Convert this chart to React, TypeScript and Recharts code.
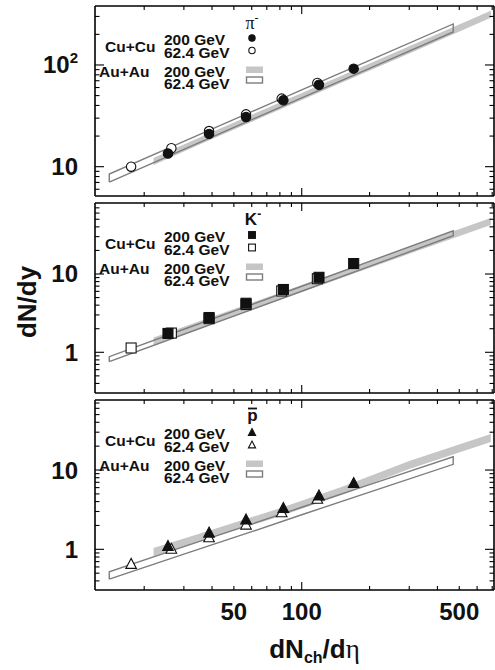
import React from "react";
import { ComposedChart, XAxis, YAxis, Area, Scatter, Legend } from "recharts";

const FONT = '"Liberation Sans", Arial, Helvetica, sans-serif';
const SERIF = '"Liberation Serif", "DejaVu Serif", serif';
const BAND = "#c6c6c6";
const OUTLINE = "#7d7d7d";
const INK = "#111";

// dN_ch/deta of the centrality bins
const cuX200 = [25.5, 38.8, 56.6, 82.9, 119.3, 170];
const cuX62 = [17.5, 26.4, 38.8, 56.6, 81.5, 117.3];
const auX200 = [22, 40, 80, 150, 300, 690];
const auX62 = [14, 30, 60, 100, 200, 470];

// pi-
const piCu200 = [13.5, 21, 30.8, 45, 64, 92];
const piCu62 = [10, 15.2, 22.4, 32.7, 46.7, 66.5];
const piAu200Lo = [10.4, 18.7, 36.5, 66.8, 130, 292];
const piAu200Hi = [12.2, 21.9, 42.8, 78.3, 153, 342];
const piAu62Lo = [7.06, 14.8, 29, 47.4, 92.6, 211];
const piAu62Hi = [8.47, 17.7, 34.7, 56.8, 111, 253];

// K-
const kCu200 = [1.74, 2.78, 4.23, 6.34, 9.07, 13.6];
const kCu62 = [1.135, 1.76, 2.69, 4.07, 6.07, 8.71];
const kAu200Lo = [1.25, 2.31, 4.7, 8.92, 18.1, 42.4];
const kAu200Hi = [1.54, 2.84, 5.77, 10.9, 22.3, 52.1];
const kAu62Lo = [0.759, 1.7, 3.51, 6.02, 12.5, 30.8];
const kAu62Hi = [0.879, 1.97, 4.07, 6.98, 14.5, 35.7];

// pbar
const pCu200 = [1.12, 1.65, 2.41, 3.37, 4.84, 6.95];
const pCu62 = [0.665, 1.03, 1.44, 2.08, 2.98, 4.4];
const pAu200Lo = [0.824, 1.41, 2.61, 4.84, 10.3, 22.5];
const pAu200Hi = [1.04, 1.77, 3.29, 6.1, 13.0, 28.4];
const pAu62Lo = [0.42, 0.868, 1.67, 2.73, 5.27, 11.8];
const pAu62Hi = [0.522, 1.08, 2.08, 3.39, 6.55, 14.7];

const X_DOMAIN: [number, number] = [12.1, 713];
const X_TICKS = [20, 30, 40, 50, 60, 70, 80, 90, 100, 200, 300, 400, 500, 600, 700];
const X_LABELS = [50, 100, 500];

const Y_TICKS_PI = [6, 7, 8, 9, 10, 20, 30, 40, 50, 60, 70, 80, 90, 100, 200, 300];
const Y_TICKS_LOW = [0.4, 0.5, 0.6, 0.7, 0.8, 0.9, 1, 2, 3, 4, 5, 6, 7, 8, 9, 10, 20, 30, 40, 50, 60, 70];

type Kind = "circle" | "square" | "triangle";

function Marker({ kind, cx, cy, filled, small }: { kind: Kind; cx: number; cy: number; filled?: boolean; small?: boolean }) {
  const s = small ? 0.68 : 1;
  const fill = filled ? INK : "#fff";
  if (kind === "circle") {
    return <circle cx={cx} cy={cy} r={4.7 * s} fill={fill} stroke={INK} strokeWidth={1.1} />;
  }
  if (kind === "square") {
    const h = 5 * s;
    return <rect x={cx - h} y={cy - h} width={2 * h} height={2 * h} fill={fill} stroke={INK} strokeWidth={1.1} />;
  }
  const w = 5.3 * s;
  const h = 5 * s;
  return (
    <polygon
      points={`${cx},${cy - h} ${cx + w},${cy + h} ${cx - w},${cy + h}`}
      fill={fill}
      stroke={INK}
      strokeWidth={1.1}
    />
  );
}

function PanelLegend({ particle, kind }: { particle: React.ReactNode; kind: Kind }) {
  const t = { fontFamily: FONT, fontWeight: 700, fontSize: 15.5, fill: INK };
  return (
    <svg width={200} height={90} style={{ display: "block", overflow: "visible" }}>
      {particle}
      <text x={10} y={46} {...t}>Cu+Cu</text>
      <text x={69} y={38.5} {...t}>200 GeV</text>
      <text x={69} y={52} {...t}>62.4 GeV</text>
      <Marker kind={kind} cx={157} cy={32} filled small />
      <Marker kind={kind} cx={157} cy={44.5} small />
      <text x={4} y={70.5} {...t}>Au+Au</text>
      <text x={69} y={70.5} {...t}>200 GeV</text>
      <text x={69} y={83} {...t}>62.4 GeV</text>
      <rect x={151} y={60.5} width={17} height={6.5} fill={BAND} />
      <rect x={151.5} y={71} width={16} height={6} fill="none" stroke={OUTLINE} strokeWidth={1.4} />
    </svg>
  );
}

// tick marks only, pointing into the frame
const xTick = (side: "top" | "bottom") => (props: any) => {
  const { x, y, payload } = props;
  const v = Number(payload.value);
  const len = Math.abs(v - 100) < 1e-6 ? 8 : 4;
  const dir = side === "top" ? 1 : -1;
  return <line x1={x} x2={x} y1={y} y2={y + dir * len} stroke="#000" strokeWidth={1.1} />;
};

// numbers under the lowest panel
const xLabel = (props: any) => {
  const { x, y, payload } = props;
  return (
    <text x={x} y={y + 29} textAnchor="middle" fontFamily={FONT} fontWeight={700} fontSize={24} fill={INK}>
      {String(payload.value)}
    </text>
  );
};

const yTick = (side: "left" | "right", majors: number[]) => (props: any) => {
  const { x, y, payload } = props;
  const v = Number(payload.value);
  const major = majors.some((m) => Math.abs(m - v) < 1e-9);
  const len = major ? 9 : 4.5;
  const dir = side === "left" ? 1 : -1;
  return (
    <g>
      <line x1={x} x2={x + dir * len} y1={y} y2={y} stroke="#000" strokeWidth={1.1} />
      {side === "left" && major && (
        <text x={x - 17} y={y + 8.5} textAnchor="end" fontFamily={FONT} fontWeight={700} fontSize={24} fill={INK}>
          {v >= 100 ? (
            <>
              <tspan>10</tspan>
              <tspan fontSize={15} dy={-10}>2</tspan>
            </>
          ) : (
            String(v)
          )}
        </text>
      )}
    </g>
  );
};

const toBand = (xs: number[], lo: number[], hi: number[]) => xs.map((x, i) => ({ x, band: [lo[i], hi[i]] }));

// closed outline: lower edge left to right, upper edge back
const toOutline = (xs: number[], lo: number[], hi: number[]) => {
  const lower = xs.map((x, i) => ({ x, y: lo[i] }));
  const upper = xs.map((x, i) => ({ x, y: hi[i] })).reverse();
  return [...lower, ...upper, lower[0]];
};

const toPoints = (xs: number[], ys: number[]) => xs.map((x, i) => ({ x, y: ys[i] }));

const yTitle = (props: any) => {
  const vb = props.viewBox ?? props;
  const cx = 36;
  const cy = vb.y + vb.height / 2 + 4;
  return (
    <text
      x={cx}
      y={cy}
      transform={`rotate(-90, ${cx}, ${cy})`}
      textAnchor="middle"
      fontFamily={FONT}
      fontWeight={700}
      fontSize={26}
      fill={INK}
    >
      dN/dy
    </text>
  );
};

const xTitle = (props: any) => {
  const vb = props.viewBox ?? props;
  return (
    <text
      x={vb.x + vb.width / 2 + 20}
      y={vb.y + 67}
      textAnchor="middle"
      fontFamily={FONT}
      fontWeight={700}
      fontSize={26}
      fill={INK}
    >
      dN
      <tspan fontSize={16} dy={5}>ch</tspan>
      <tspan dy={-5}>/d</tspan>
      <tspan fontFamily={SERIF} fontWeight={400} fontSize={27}>η</tspan>
    </text>
  );
};

interface PanelProps {
  kind: Kind;
  particle: React.ReactNode;
  cu200: number[];
  cu62: number[];
  au200Lo: number[];
  au200Hi: number[];
  au62Lo: number[];
  au62Hi: number[];
  yDomain: [number, number];
  yTicks: number[];
  majors: number[];
  height: number;
  bottom: number;
  showX?: boolean;
  showYTitle?: boolean;
}

const blank = () => "";

function Panel(p: PanelProps) {
  const axisLine = { stroke: "#000", strokeWidth: 1.6 };
  const common = {
    type: "number" as const,
    scale: "log" as const,
    allowDataOverflow: true,
    interval: 0 as const,
    minTickGap: 0,
    tickSize: 0,
    tickMargin: 0,
    tickLine: false,
    tickFormatter: blank,
  };
  return (
    <ComposedChart
      width={495}
      height={p.height}
      data={toBand(auX200, p.au200Lo, p.au200Hi)}
      margin={{ top: 5, right: 0, bottom: p.bottom - (p.showX ? 2 : 1), left: 94 }}
    >
      <XAxis
        {...common}
        xAxisId="b"
        dataKey="x"
        domain={X_DOMAIN}
        ticks={X_TICKS}
        height={1}
        axisLine={axisLine}
        tick={xTick("bottom")}
      />
      {p.showX && (
        <XAxis
          {...common}
          xAxisId="lab"
          dataKey="x"
          domain={X_DOMAIN}
          ticks={X_LABELS}
          height={1}
          axisLine={false}
          tick={xLabel}
          label={xTitle}
        />
      )}
      <XAxis
        {...common}
        xAxisId="t"
        orientation="top"
        dataKey="x"
        domain={X_DOMAIN}
        ticks={X_TICKS}
        height={1}
        axisLine={axisLine}
        tick={xTick("top")}
      />
      <YAxis
        {...common}
        yAxisId="l"
        dataKey="y"
        domain={p.yDomain}
        ticks={p.yTicks}
        width={1}
        axisLine={axisLine}
        tick={yTick("left", p.majors)}
        label={p.showYTitle ? yTitle : undefined}
      />
      <YAxis
        {...common}
        yAxisId="r"
        orientation="right"
        dataKey="y"
        domain={p.yDomain}
        ticks={p.yTicks}
        width={1}
        axisLine={axisLine}
        tick={yTick("right", p.majors)}
      />
      <Area
        xAxisId="b"
        yAxisId="l"
        dataKey="band"
        type="linear"
        stroke="none"
        fill={BAND}
        fillOpacity={1}
        isAnimationActive={false}
      />
      <Scatter
        xAxisId="b"
        yAxisId="l"
        data={toOutline(auX62, p.au62Lo, p.au62Hi)}
        fill={OUTLINE}
        line={{ stroke: OUTLINE, strokeWidth: 1.4 }}
        lineType="joint"
        shape={() => <g />}
        isAnimationActive={false}
      />
      <Scatter
        xAxisId="b"
        yAxisId="l"
        data={toPoints(cuX62, p.cu62)}
        shape={(s: any) => <Marker kind={p.kind} cx={s.cx} cy={s.cy} />}
        isAnimationActive={false}
      />
      <Scatter
        xAxisId="b"
        yAxisId="l"
        data={toPoints(cuX200, p.cu200)}
        shape={(s: any) => <Marker kind={p.kind} cx={s.cx} cy={s.cy} filled />}
        isAnimationActive={false}
      />
      <Legend
        layout="horizontal"
        verticalAlign="middle"
        align="center"
        wrapperStyle={{ left: 95, top: 6, width: 200, height: 90 }}
        content={() => <PanelLegend particle={p.particle} kind={p.kind} />}
      />
    </ComposedChart>
  );
}

const piLabel = (
  <text x={157} y={23} textAnchor="middle" fontFamily={SERIF} fontSize={18} fill={INK}>
    π<tspan fontSize={12} dy={-7}>-</tspan>
  </text>
);
const kLabel = (
  <text x={158} y={22} textAnchor="middle" fontFamily={FONT} fontWeight={700} fontSize={17} fill={INK}>
    K<tspan fontSize={12} dy={-7}>-</tspan>
  </text>
);
const pLabel = (
  <g>
    <line x1={153} x2={162} y1={8.5} y2={8.5} stroke={INK} strokeWidth={1.8} />
    <text x={157.5} y={21} textAnchor="middle" fontFamily={FONT} fontWeight={700} fontSize={17} fill={INK}>
      p
    </text>
  </g>
);

export default function App() {
  return (
    <div style={{ position: "absolute", left: 0, top: 0, width: 495, height: 670, background: "#fff" }}>
      <div style={{ position: "absolute", left: 0, top: 0 }}>
        <Panel
          kind="circle"
          particle={piLabel}
          cu200={piCu200}
          cu62={piCu62}
          au200Lo={piAu200Lo}
          au200Hi={piAu200Hi}
          au62Lo={piAu62Lo}
          au62Hi={piAu62Hi}
          yDomain={[5.15, 380]}
          yTicks={Y_TICKS_PI}
          majors={[10, 100]}
          height={200}
          bottom={4}
        />
      </div>
      <div style={{ position: "absolute", left: 0, top: 197 }}>
        <Panel
          kind="square"
          particle={kLabel}
          cu200={kCu200}
          cu62={kCu62}
          au200Lo={kAu200Lo}
          au200Hi={kAu200Hi}
          au62Lo={kAu62Lo}
          au62Hi={kAu62Hi}
          yDomain={[0.302, 80.7]}
          yTicks={Y_TICKS_LOW}
          majors={[1, 10]}
          height={200}
          bottom={4}
          showYTitle
        />
      </div>
      <div style={{ position: "absolute", left: 0, top: 394 }}>
        <Panel
          kind="triangle"
          particle={pLabel}
          cu200={pCu200}
          cu62={pCu62}
          au200Lo={pAu200Lo}
          au200Hi={pAu200Hi}
          au62Lo={pAu62Lo}
          au62Hi={pAu62Hi}
          yDomain={[0.307, 76.4]}
          yTicks={Y_TICKS_LOW}
          majors={[1, 10]}
          height={276}
          bottom={80}
          showX
        />
      </div>
    </div>
  );
}
